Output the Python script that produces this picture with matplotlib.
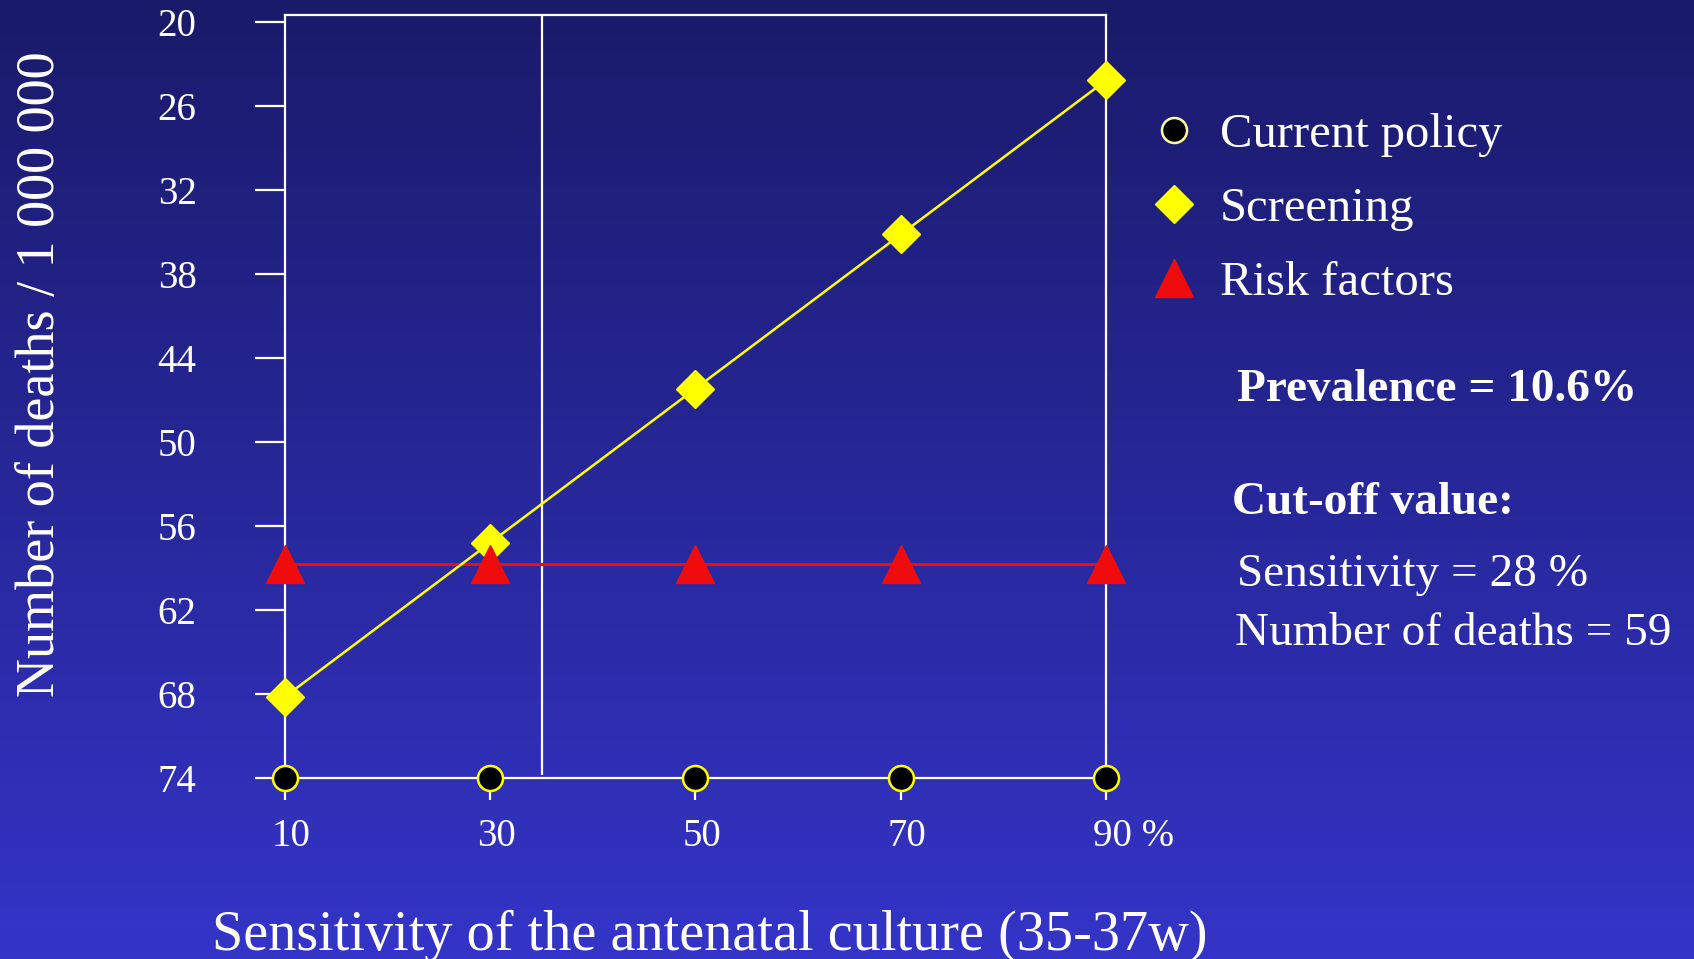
import numpy as np
import matplotlib.pyplot as plt
from matplotlib.lines import Line2D
from matplotlib.transforms import ScaledTranslation

plt.rcParams['font.family'] = ['Liberation Serif', 'DejaVu Serif']

# sensitivity of the antenatal culture (%)
sensitivity = [10, 30, 50, 70, 90]
# number of deaths / 1 000 000
current_policy = [74, 74, 74, 74, 74]
screening = [68.2, 57.2, 46.2, 35.2, 24.2]
risk_factors = [58.7, 58.7, 58.7, 58.7, 58.7]

y_ticks = [20, 26, 32, 38, 44, 50, 56, 62, 68, 74]
x_tick_labels = ['10', '30', '50', '70', '90 %']
cutoff_line = 35

YELLOW = '#ffff00'
RED = '#f00c0c'

fig = plt.figure(figsize=(16.94, 9.59), dpi=100)

# blue gradient background
bg = fig.add_axes([0, 0, 1, 1], zorder=-10)
top = np.array([26, 26, 106]) / 255
bottom = np.array([52, 52, 200]) / 255
t = np.linspace(0, 1, 256)[:, None, None]
grad = top * (1 - t) + bottom * t
bg.imshow(np.repeat(grad, 2, axis=1), aspect='auto', extent=[0, 1, 0, 1])
bg.axis('off')

ax = fig.add_axes([0.1682, 0.1887, 0.4847, 0.7957])
ax.set_facecolor('none')
ax.set_xlim(10, 90)
ax.set_ylim(74, 19.53)

for s in ax.spines.values():
    s.set_color('white')
    s.set_linewidth(1.6)

ax.vlines(cutoff_line, 19.53, 73.8, color='white', lw=1.6)

ax.plot(sensitivity, risk_factors, color=RED, lw=2.2, clip_on=False, zorder=3)
ax.plot(sensitivity, screening, color=YELLOW, lw=1.8, marker='D', ms=19,
        mfc=YELLOW, mec=YELLOW, clip_on=False, zorder=4)
ax.plot(sensitivity, risk_factors, ls='none', marker='^', ms=27,
        mfc=RED, mec=RED, clip_on=False, zorder=5)
ax.plot(sensitivity, current_policy, ls='none', marker='o', ms=18,
        mfc='black', mec=YELLOW, mew=1.8, clip_on=False, zorder=6)

ax.set_yticks(y_ticks)
ax.set_xticks(sensitivity)
ax.set_xticklabels(x_tick_labels)
ax.tick_params(axis='y', colors='white', direction='out', length=21.6,
               width=1.6, pad=42, labelsize=28)
ax.tick_params(axis='x', colors='white', direction='out', length=15.5,
               width=1.6, pad=13.5, labelsize=28)
for lab in ax.get_xticklabels():
    lab.set_horizontalalignment('left')
    lab.set_transform(lab.get_transform() +
                      ScaledTranslation(-9.3 / 72, 0, fig.dpi_scale_trans))

fig.text(54 / 1694, 1 - 374 / 959, 'Number of deaths / 1 000 000',
         rotation=90, rotation_mode='anchor', ha='center', va='baseline',
         color='white', fontsize=39)
fig.text(710 / 1694, 1 - 950 / 959,
         'Sensitivity of the antenatal culture (35-37w)',
         ha='center', va='baseline', color='white', fontsize=40.5)

handles = [
    Line2D([], [], ls='none', marker='o', ms=18, mfc='black', mec='#ffff99', mew=1.8),
    Line2D([], [], ls='none', marker='D', ms=19, mfc=YELLOW, mec=YELLOW),
    Line2D([], [], ls='none', marker='^', ms=27, mfc=RED, mec=RED),
]
ax.legend(handles, ['Current policy', 'Screening', 'Risk factors'],
          loc='upper left', bbox_to_anchor=(1150 / 1694, 1 - 113 / 959),
          bbox_transform=fig.transFigure, frameon=False, fontsize=35,
          labelcolor='white', handlelength=1.0, handletextpad=0.43,
          labelspacing=0.62, borderpad=0, borderaxespad=0, numpoints=1)

fig.text(1237 / 1694, 1 - 401 / 959, 'Prevalence = 10.6%', color='white',
         fontsize=34, fontweight='bold', va='baseline')
fig.text(1232 / 1694, 1 - 514 / 959, 'Cut-off value:', color='white',
         fontsize=34, fontweight='bold', va='baseline')
fig.text(1237 / 1694, 1 - 586 / 959, 'Sensitivity = 28 %', color='white',
         fontsize=34, va='baseline')
fig.text(1235 / 1694, 1 - 645 / 959, 'Number of deaths = 59', color='white',
         fontsize=34, va='baseline')

fig.savefig('out.png', dpi=100)
